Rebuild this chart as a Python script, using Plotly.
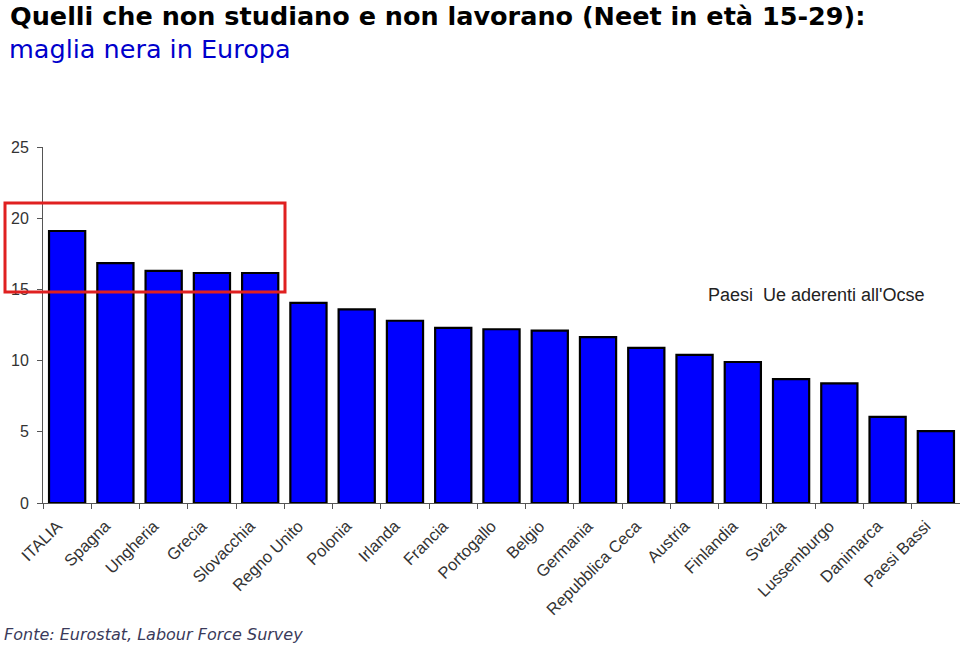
import plotly.graph_objects as go

countries = ["ITALIA", "Spagna", "Ungheria", "Grecia", "Slovacchia", "Regno Unito",
             "Polonia", "Irlanda", "Francia", "Portogallo", "Belgio", "Germania",
             "Repubblica Ceca", "Austria", "Finlandia", "Svezia", "Lussemburgo",
             "Danimarca", "Paesi Bassi"]
neet = [19.1, 16.85, 16.3, 16.15, 16.15, 14.05, 13.6, 12.8, 12.3, 12.2, 12.1, 11.65,
        10.9, 10.4, 9.9, 8.7, 8.4, 6.05, 5.05]
y_ticks = [0, 5, 10, 15, 20, 25]

PH = 356.0
PW = 917.0

fig = go.Figure(go.Bar(
    x=countries, y=neet,
    marker=dict(color="#0000FF", line=dict(color="black", width=2.2)),
    width=0.75,
))

fig.update_layout(
    width=960, height=645,
    margin=dict(l=43, r=0, t=147, b=142, autoexpand=False),
    plot_bgcolor="white", paper_bgcolor="white",
    showlegend=False,
    bargap=0.25,
    font=dict(family="Liberation Sans, Arial", color="#333333"),
)
fig.update_yaxes(range=[0, 25], tickvals=y_ticks, showgrid=False, zeroline=False,
                 showline=True, linecolor="#555555", linewidth=1, automargin=False,
                 ticks="outside", ticklen=5, tickcolor="#555555", ticklabelstandoff=5,
                 tickfont=dict(size=16, color="#333333"))
fig.update_xaxes(range=[-0.5, len(countries) - 0.5],
                 showgrid=False, showline=True, linecolor="#555555", linewidth=1,
                 automargin=False, ticklabelstandoff=6, ticklabelshift=-10,
                 ticks="outside", ticklen=5, tickcolor="#555555", tickson="boundaries",
                 tickangle=-45, tickfont=dict(size=16.5, color="#333333"))

fig.add_shape(type="rect", xref="paper", yref="paper",
              x0=(5 - 43) / PW, x1=(285 - 43) / PW,
              y0=(503 - 292) / PH, y1=(503 - 203) / PH,
              line=dict(color="#E02020", width=3))

fig.add_annotation(text="<b>Quelli che non studiano e non lavorano (Neet in età 15-29):</b>",
                   xref="paper", yref="paper", x=-35/PW, y=1 + (147 + 1) / PH,
                   xanchor="left", yanchor="top", showarrow=False,
                   font=dict(family="DejaVu Sans", size=25.5, color="black"))
fig.add_annotation(text="maglia nera in Europa",
                   xref="paper", yref="paper", x=-36/PW, y=1 + (147 - 32) / PH,
                   xanchor="left", yanchor="top", showarrow=False,
                   font=dict(family="DejaVu Sans", size=25.5, color="#0000CC"))
fig.add_annotation(text="Paesi  Ue aderenti all'Ocse",
                   xref="paper", yref="paper", x=(706 - 43) / PW, y=(503 - 295) / PH,
                   xanchor="left", yanchor="middle", showarrow=False,
                   font=dict(family="Liberation Sans, Arial", size=18, color="#222222"))
fig.add_annotation(text="<i>Fonte: Eurostat, Labour Force Survey</i>",
                   xref="paper", yref="paper", x=-41/PW, y=-(634 - 503) / PH,
                   xanchor="left", yanchor="middle", showarrow=False,
                   font=dict(family="DejaVu Sans", size=16, color="#3a3a5a"))

fig.write_html("out.html", config={"displayModeBar": False},
               post_script="document.body.style.margin='0';")
